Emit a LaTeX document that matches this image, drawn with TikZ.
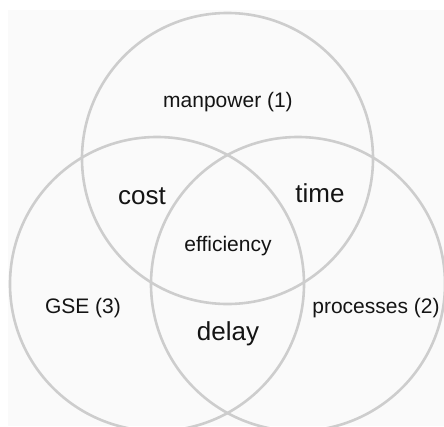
\documentclass[tikz,border=0pt]{standalone}
\usepackage{fontspec}
\setmainfont{Liberation Sans}
\usepackage{tikz}
\usetikzlibrary{positioning}
\definecolor{ringgray}{RGB}{205,205,205}
\definecolor{backgray}{RGB}{250,250,250}
\definecolor{inkcolor}{RGB}{20,20,20}

\begin{document}
\begin{tikzpicture}[x=1pt, y=-1pt,
    ring/.style={draw=ringgray, line width=2.6pt},
    lbl/.style={anchor=base, text=inkcolor, inner sep=0pt, font=\fontsize{21}{25}\selectfont},
    biglbl/.style={lbl, font=\fontsize{26}{30}\selectfont}]

\useasboundingbox (0,0) rectangle (444,426);

% Fond
\fill[backgray] (8,10) rectangle (444,426);

% Cercles
\draw[ring] (227.5,158.5) circle (145.5);
\draw[ring] (157,284) circle (147);
\draw[ring] (298,284) circle (147);

% Etiquettes des ensembles
\node[lbl] (manpower) at (228,107) {manpower (1)};
\node[lbl] (gse) at (83,313) {GSE (3)};
\node[lbl] (processes) at (376,313) {processes (2)};

% Intersections
\node[biglbl] (cost) at (142,204) {cost};
\node[biglbl] (time) at (320,202) {time};
\node[biglbl] (delay) at (228,340) {delay};
\node[lbl] (efficiency) at (228,251) {efficiency};

\end{tikzpicture}
\end{document}
